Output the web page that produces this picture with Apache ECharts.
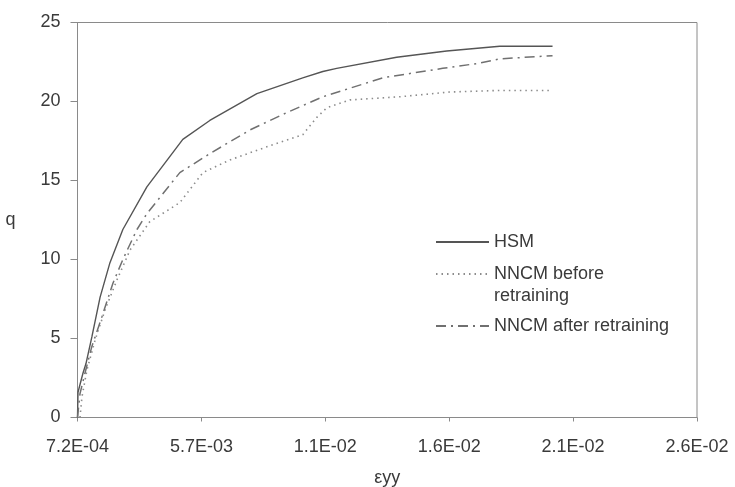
<!DOCTYPE html>
<html>
<head>
<meta charset="utf-8">
<script src="https://cdn.jsdelivr.net/npm/echarts@6/dist/echarts.min.js"></script>
<style>
html,body{margin:0;padding:0;background:#fff;}
#chart{width:735px;height:487px;}
</style>
</head>
<body>
<div id="chart"></div>
<script>
// x-axis origin (first tick label 7.2E-04)
const X0 = 0.00072;
const xTickStep = 0.005;
const yTicks = [0, 5, 10, 15, 20, 25];

const hsmStrain = [0.00072, 0.00074, 0.00094, 0.00106, 0.00130, 0.00163, 0.00203, 0.00255, 0.00352, 0.00497, 0.00606, 0.00796, 0.00981, 0.01062, 0.01118, 0.01360, 0.01562, 0.01776, 0.01989];
const hsmQ      = [0,       1.6,     2.8,     3.4,     5.1,     7.6,     9.8,     11.9,    14.6,    17.6,    18.8,    20.5,    21.5,    21.9,    22.1,    22.8,    23.2,    23.5,    23.5];

const beforeStrain = [0.00082, 0.00090, 0.00110, 0.00143, 0.00183, 0.00231, 0.00284, 0.00364, 0.00485, 0.00578, 0.00687, 0.00848, 0.00981, 0.01038, 0.01078, 0.01171, 0.01373, 0.01574, 0.01776, 0.01989];
const beforeQ      = [0,       1.3,     3.0,     4.9,     6.8,     8.7,     10.6,    12.4,    13.6,    15.5,    16.3,    17.2,    17.9,    19.0,    19.6,    20.1,    20.3,    20.6,    20.7,    20.7];

const afterStrain = [0.00072, 0.00082, 0.00102, 0.00130, 0.00171, 0.00215, 0.00255, 0.00312, 0.00352, 0.00485, 0.00606, 0.00768, 0.00917, 0.01062, 0.01304, 0.01546, 0.01683, 0.01776, 0.01989];
const afterQ      = [0,       1.5,     2.8,     4.5,     6.4,     8.5,     10.0,    11.9,    12.9,    15.5,    16.7,    18.2,    19.3,    20.3,    21.5,    22.1,    22.4,    22.7,    22.9];

const seriesNames = ['HSM', 'NNCM before retraining', 'NNCM after retraining'];

function pairs(xs, ys) { return xs.map((x, i) => [x - X0, ys[i]]); }
function fmtE(v) {
  const val = v + X0;
  let s = val.toExponential(1);
  let [m, e] = s.split('e');
  const sign = e[0] === '-' ? '-' : '+';
  let d = e.replace(/[+-]/, '');
  if (d.length < 2) d = '0' + d;
  return m + 'E' + sign + d;
}

const FONT = '"Liberation Sans", Arial, sans-serif';
const axisGrey = '#8a8a8a';
const labelCol = '#3a3a3a';

const legendBase = {left: 430, itemWidth: 53, itemHeight: 14, itemGap: 0,
  itemStyle: {opacity: 0}, selectedMode: false};

const chart = echarts.init(document.getElementById('chart'), null, {renderer: 'canvas'});
chart.setOption({
  animation: false,
  backgroundColor: '#ffffff',
  grid: {left: 77.5, right: 38, top: 22.5, bottom: 69.5, containLabel: false, outerBoundsMode: 'none',
         show: true, borderColor: axisGrey, borderWidth: 1, backgroundColor: 'transparent'},
  xAxis: {
    type: 'value', min: 0, max: xTickStep * 5, interval: xTickStep,
    name: 'εyy', nameLocation: 'middle', nameGap: 52,
    nameTextStyle: {fontFamily: FONT, fontSize: 18, color: labelCol},
    axisLine: {show: true, lineStyle: {color: axisGrey, width: 1}},
    axisTick: {show: true, inside: false, length: 4, lineStyle: {color: axisGrey}},
    splitLine: {show: false},
    axisLabel: {formatter: fmtE, fontFamily: FONT, fontSize: 18, color: labelCol, margin: 21}
  },
  yAxis: {
    type: 'value', min: yTicks[0], max: yTicks[yTicks.length - 1], interval: yTicks[1] - yTicks[0],
    name: 'q', nameLocation: 'middle', nameGap: 62, nameRotate: 0,
    nameTextStyle: {fontFamily: FONT, fontSize: 18, color: labelCol, padding: [0, 0, 48, 0]},
    axisLine: {show: true, lineStyle: {color: axisGrey, width: 1}},
    axisTick: {show: true, inside: false, length: 7, lineStyle: {color: axisGrey}},
    splitLine: {show: false},
    axisLabel: {fontFamily: FONT, fontSize: 18, color: labelCol, margin: 17}
  },
  legend: [
    Object.assign({}, legendBase, {data: [seriesNames[0]], top: 228,
     textStyle: {fontFamily: FONT, fontSize: 18, color: labelCol}}),
    Object.assign({}, legendBase, {data: [seriesNames[1]], top: 236,
     formatter: n => ' \n' + n.replace(' retraining', '\nretraining'),
     textStyle: {fontFamily: FONT, fontSize: 18, color: labelCol, lineHeight: 22}}),
    Object.assign({}, legendBase, {data: [seriesNames[2]], top: 312,
     textStyle: {fontFamily: FONT, fontSize: 18, color: labelCol}})
  ],
  series: [
    {name: seriesNames[0], type: 'line', symbol: 'none', data: pairs(hsmStrain, hsmQ),
     lineStyle: {color: '#555555', width: 1.4, type: 'solid'}, itemStyle: {color: '#555555'}},
    {name: seriesNames[1], type: 'line', symbol: 'none', data: pairs(beforeStrain, beforeQ),
     lineStyle: {color: '#8c8c8c', width: 1.6, type: [1.5, 4]}, itemStyle: {color: '#8c8c8c'}},
    {name: seriesNames[2], type: 'line', symbol: 'none', data: pairs(afterStrain, afterQ),
     lineStyle: {color: '#707070', width: 1.5, type: [10, 5, 2, 5]}, itemStyle: {color: '#707070'}}
  ]
});
</script>
</body>
</html>
